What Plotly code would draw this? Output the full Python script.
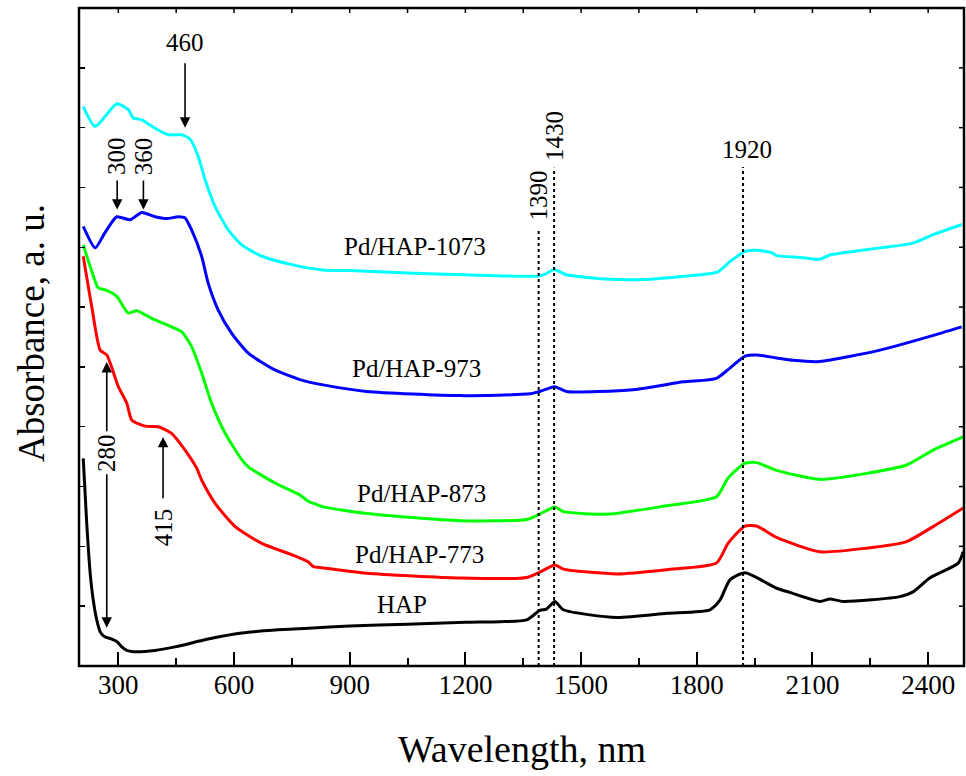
import plotly.graph_objects as go

# ---------------- data (wavelength in nm, absorbance in a.u.) ----------------
wl_1073 = [209, 240, 296, 326, 339, 361, 395, 430, 464, 486, 507, 525, 551, 585, 620, 672, 750,
           831, 900, 1050, 1200, 1390, 1410, 1430, 1462, 1560, 1660, 1808, 1855, 1886, 1925, 1955,
           1994, 2007, 2067, 2119, 2145, 2275, 2361, 2413, 2487]
abs_1073 = [9.35, 9.02, 9.40, 9.30, 9.16, 9.13, 8.99, 8.88, 8.88, 8.81, 8.52, 8.13, 7.68, 7.29, 7.04,
            6.85, 6.71, 6.62, 6.61, 6.57, 6.54, 6.52, 6.56, 6.63, 6.54, 6.47, 6.46, 6.54, 6.59, 6.76,
            6.93, 6.95, 6.91, 6.86, 6.83, 6.80, 6.87, 6.99, 7.07, 7.21, 7.38]

wl_973 = [209, 240, 265, 296, 330, 361, 395, 425, 456, 473, 490, 516, 533, 559, 594, 637, 706, 775,
          831, 944, 1186, 1367, 1393, 1432, 1462, 1635, 1765, 1851, 1886, 1925, 1955, 2007, 2050,
          2119, 2275, 2404, 2487]
abs_973 = [7.35, 6.99, 7.24, 7.51, 7.46, 7.58, 7.51, 7.48, 7.51, 7.49, 7.29, 6.85, 6.40, 5.95, 5.56,
           5.23, 4.95, 4.78, 4.70, 4.59, 4.52, 4.55, 4.59, 4.67, 4.59, 4.62, 4.75, 4.81, 4.98, 5.18,
           5.20, 5.15, 5.11, 5.09, 5.28, 5.51, 5.67]

wl_873 = [209, 227, 248, 270, 296, 326, 348, 387, 438, 464, 490, 516, 542, 577, 620, 637, 706, 771,
          793, 806, 831, 944, 1186, 1359, 1393, 1432, 1454, 1575, 1722, 1851, 1881, 1925, 1955, 2007,
          2119, 2240, 2344, 2413, 2491]
abs_873 = [7.04, 6.68, 6.32, 6.28, 6.18, 5.90, 5.94, 5.81, 5.67, 5.59, 5.34, 4.90, 4.39, 3.89, 3.45,
           3.33, 3.06, 2.86, 2.75, 2.72, 2.66, 2.55, 2.43, 2.45, 2.54, 2.66, 2.58, 2.54, 2.68, 2.83,
           3.14, 3.39, 3.40, 3.27, 3.12, 3.22, 3.36, 3.61, 3.83]

wl_773 = [209, 231, 253, 270, 300, 322, 335, 369, 404, 438, 473, 503, 516, 551, 603, 672, 750, 793,
          806, 831, 944, 1186, 1359, 1393, 1432, 1454, 1592, 1722, 1851, 1881, 1925, 1955, 2007, 2119,
          2240, 2344, 2413, 2491]
abs_773 = [6.85, 6.01, 5.28, 5.20, 4.67, 4.39, 4.11, 4.01, 4.00, 3.89, 3.61, 3.31, 3.11, 2.72, 2.33,
           2.05, 1.86, 1.74, 1.66, 1.64, 1.55, 1.47, 1.48, 1.57, 1.69, 1.62, 1.54, 1.61, 1.72, 2.05,
           2.34, 2.34, 2.15, 1.91, 1.97, 2.08, 2.33, 2.64]

wl_hap = [209, 218, 227, 235, 244, 253, 265, 283, 296, 309, 322, 339, 395, 447, 533, 620, 706, 793,
          900, 1050, 1200, 1290, 1359, 1393, 1410, 1432, 1454, 1592, 1722, 1834, 1860, 1886, 1925,
          2007, 2041, 2119, 2145, 2180, 2327, 2361, 2404, 2478, 2491]
abs_hap = [3.47, 2.39, 1.55, 1.10, 0.77, 0.57, 0.49, 0.45, 0.41, 0.32, 0.26, 0.24, 0.26, 0.32, 0.45,
           0.55, 0.60, 0.63, 0.67, 0.70, 0.73, 0.74, 0.77, 0.93, 0.95, 1.08, 0.94, 0.81, 0.88, 0.94,
           1.10, 1.44, 1.56, 1.30, 1.23, 1.08, 1.12, 1.08, 1.16, 1.24, 1.47, 1.72, 1.91]

series = [
    ("Pd/HAP-1073", wl_1073, abs_1073, "#00FFFF"),
    ("Pd/HAP-973", wl_973, abs_973, "#0000FF"),
    ("Pd/HAP-873", wl_873, abs_873, "#00FF00"),
    ("Pd/HAP-773", wl_773, abs_773, "#FF0000"),
    ("HAP", wl_hap, abs_hap, "#000000"),
]

# band positions marked with dotted lines
band_wl = [1390, 1430, 1920]
band_top = [7.32, 8.33, 8.34]

# tick positions
x_ticks = list(range(300, 2500, 150))   # major every 300, minor in between
y_ticks = list(range(1, 11))

FONT = "Liberation Serif, Times New Roman, serif"

# figure geometry (page body margin is removed by post_script)
W, H = 966, 776
ML, MR, MT, MB = 79, 2, 8, 110
PW, PH = W - ML - MR, H - MT - MB

fig = go.Figure()
for name, x, y, c in series:
    fig.add_trace(go.Scatter(x=x, y=y, mode="lines", name=name,
                             line=dict(color=c, width=3, shape="spline", smoothing=0.6)))

XR = [198, 2493]
YR = [0, 11.0]

fig.update_layout(
    width=W, height=H,
    margin=dict(l=ML, r=MR, t=MT, b=MB, autoexpand=False),
    paper_bgcolor="white", plot_bgcolor="white",
    showlegend=False,
    font=dict(family=FONT, color="black"),
    xaxis=dict(range=XR, showgrid=False, zeroline=False, showline=False,
               ticks="inside", ticklen=14, tickwidth=2,
               tickcolor="black", tick0=0, dtick=300, automargin=False,
               tickfont=dict(family=FONT, size=27, color="black"),
               minor=dict(ticks="inside", ticklen=8, tickwidth=2, tickcolor="black", dtick=150,
                          tick0=0, showgrid=False)),
    yaxis=dict(range=YR, showgrid=False, zeroline=False, showline=False,
               ticks="inside", ticklen=6, tickwidth=1.5,
               tickcolor="black", tick0=0, dtick=1, showticklabels=False, automargin=False),
)

# frame around the plot area
fig.add_shape(type="rect", xref="paper", yref="paper", x0=0, x1=1, y0=0, y1=1,
              line=dict(color="black", width=2.5), layer="above")
# short ticks on top and right frame edges
for tx in x_ticks:
    fig.add_shape(type="line", xref="x", yref="paper", x0=tx, x1=tx, y0=1, y1=1 - 5 / PH,
                  line=dict(color="black", width=1.5))
for ty in y_ticks:
    fig.add_shape(type="line", xref="paper", yref="y", x0=1, x1=1 - 5 / PW, y0=ty, y1=ty,
                  line=dict(color="black", width=1.5))

# dotted band lines
for bx, bt in zip(band_wl, band_top):
    fig.add_shape(type="line", x0=bx, x1=bx, y0=0, y1=bt, xref="x", yref="y",
                  line=dict(color="black", width=2, dash="dot"))

ann = []
f25 = dict(family=FONT, size=25)
# curve labels
for txt, x, y in [("Pd/HAP-1073", 1069, 7.01), ("Pd/HAP-973", 1074, 4.98),
                  ("Pd/HAP-873", 1087, 2.89), ("Pd/HAP-773", 1082, 1.86), ("HAP", 1036, 1.02)]:
    ann.append(dict(x=x, y=y, text=txt, showarrow=False, font=f25))

# band labels
ann.append(dict(x=1390, y=7.86, text="1390", textangle=-90, showarrow=False, font=f25))
ann.append(dict(x=1430, y=8.86, text="1430", textangle=-90, showarrow=False, font=f25))
ann.append(dict(x=1929, y=8.63, text="1920", showarrow=False, font=f25))

# peak labels
ann.append(dict(x=473, y=10.43, text="460", showarrow=False, font=f25))
ann.append(dict(x=297, y=8.53, text="300", textangle=-90, showarrow=False, font=f25))
ann.append(dict(x=365, y=8.53, text="360", textangle=-90, showarrow=False, font=f25))
ann.append(dict(x=268, y=3.56, text="280", textangle=-90, showarrow=False, font=f25))
ann.append(dict(x=416, y=2.32, text="415", textangle=-90, showarrow=False, font=f25))

# arrows: (head x, head y, tail y)
for hx, hy, ty in [(473, 9.0, 10.10), (297, 7.63, 8.14), (365, 7.63, 8.14),
                   (270, 5.08, 3.90), (270, 0.64, 3.23), (416, 3.83, 2.78)]:
    ann.append(dict(x=hx, y=hy, ax=hx, ay=ty, axref="x", ayref="y", text="",
                    showarrow=True, arrowhead=2, arrowsize=1.3, arrowwidth=1.6,
                    arrowcolor="black", standoff=0, startstandoff=0))

# axis titles (paper coordinates derived from pixel layout)
ann.append(dict(x=(522 - ML) / PW, y=-(749 - (MT + PH)) / PH, xref="paper", yref="paper",
                text="Wavelength, nm", showarrow=False, xanchor="center", yanchor="middle",
                font=dict(family=FONT, size=38)))
ann.append(dict(x=(31 - ML) / PW, y=((MT + PH) - 333) / PH, xref="paper", yref="paper",
                text="Absorbance, a. u.", showarrow=False, textangle=-90,
                xanchor="center", yanchor="middle", font=dict(family=FONT, size=37)))

fig.update_layout(annotations=ann)

fig.write_html("out.html",
               config={"displayModeBar": False, "staticPlot": True},
               post_script="document.body.style.margin='0px';"
                           "document.body.style.overflow='hidden';")
